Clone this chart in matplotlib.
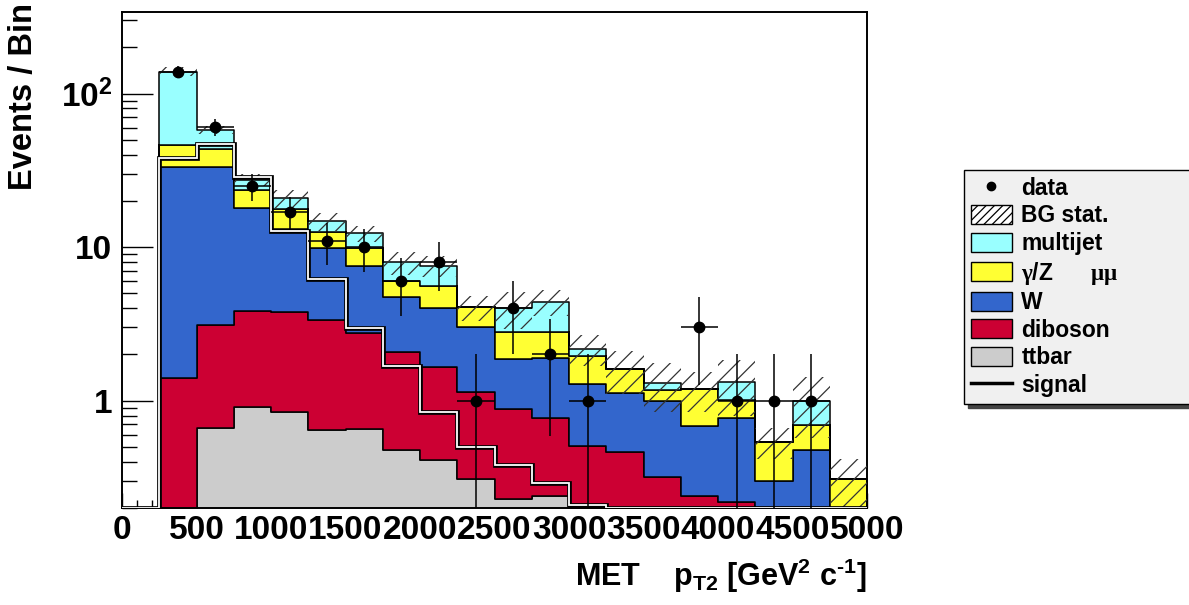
import numpy as np
import matplotlib.pyplot as plt
from matplotlib.patches import Patch
from matplotlib.lines import Line2D
from matplotlib.ticker import MultipleLocator, LogLocator, NullFormatter

plt.rcParams['font.family'] = ['Liberation Sans', 'DejaVu Sans']
plt.rcParams['font.weight'] = 'bold'
plt.rcParams['mathtext.fontset'] = 'custom'
plt.rcParams['mathtext.rm'] = 'Liberation Serif'
plt.rcParams['mathtext.bf'] = 'Liberation Sans:bold'
plt.rcParams['hatch.linewidth'] = 0.9

# bins of 250 from 0 to 5000 (first bin empty)
edges = np.arange(0, 5001, 250)
ttbar = [0, 0, 0.66, 0.91, 0.85, 0.64, 0.65, 0.48, 0.41, 0.31, 0.23, 0.24, 0, 0, 0, 0, 0, 0, 0, 0]
diboson = [0, 1.40, 2.47, 2.91, 2.91, 2.72, 2.11, 1.58, 1.25, 0.83, 0.65, 0.53, 0.51, 0.46, 0.32, 0.24, 0.22, 0, 0, 0]
wjets = [0, 32.1, 30.3, 14.2, 9.44, 6.54, 4.78, 2.65, 2.36, 1.86, 0.99, 1.13, 0.77, 0.67, 0.68, 0.44, 0.55, 0.30, 0.48, 0]
zgamma = [0, 12.8, 10.0, 5.6, 4.4, 2.7, 2.36, 1.34, 1.59, 1.06, 0.92, 0.92, 0.68, 0.48, 0.18, 0.51, 0.24, 0.24, 0.21, 0.31]
multijet = [0, 92.7, 14.6, 3.8, 3.3, 2.1, 2.4, 1.91, 1.97, 0, 1.23, 1.6, 0.21, 0, 0.12, 0, 0.31, 0, 0.31, 0]
bg_err = [0, 9, 3.8, 2.5, 2.8, 1.9, 1.5, 1.4, 1.2, 0.77, 1.1, 0.85, 0.5, 0.5, 0.45, 0.35, 0.52, 0.12, 0.43, 0.11]
signal = [0, 37.9, 47, 28.5, 12.8, 6.2, 2.96, 1.67, 0.85, 0.50, 0.38, 0.29, 0.21, 0, 0, 0, 0, 0, 0, 0]
data = [0, 139, 61, 25, 17, 11, 10, 6, 8, 1, 4, 2, 1, 0, 0, 3, 1, 1, 1, 0]

colors = ['#cccccc', '#cc0033', '#3366cc', '#ffff33', '#99ffff']

ymin, ymax = 0.2, 340
floor = 1e-2

fig = plt.figure(figsize=(11.89, 6.05), dpi=100)
ax = fig.add_axes([122/1189, 1-508/605, 745/1189, 496/605])
ax.set_yscale('log')

xs = np.repeat(edges, 2)[1:-1]

def rep(v):
    return np.repeat(np.asarray(v, float), 2)

# stacked backgrounds
levels = np.cumsum([ttbar, diboson, wjets, zgamma, multijet], axis=0)
lower = np.full(len(data), floor)
for lvl, c in zip(levels, colors):
    upper = np.maximum(lvl, floor)
    ax.fill_between(xs, rep(lower), rep(upper), facecolor=c, edgecolor='black', lw=1.1, zorder=2)
    lower = upper

# BG stat band
tot = levels[-1]
err = np.array(bg_err)
ax.fill_between(xs, rep(np.maximum(tot-err, floor)), rep(np.maximum(tot+err, floor)),
                facecolor='none', edgecolor='#333333', hatch='//', lw=0, zorder=3)

# signal
sig = rep(np.maximum(signal, ymin))
ax.plot(xs, sig, color='black', lw=3.4, zorder=4, solid_joinstyle='miter')
ax.plot(xs, sig, color='white', lw=1.3, zorder=4.1, solid_joinstyle='miter')

# data
d = np.array(data, float)
centers = 0.5*(edges[:-1] + edges[1:])
m = d > 0
e = np.sqrt(d[m])
lo = np.where(e >= d[m], d[m] - 1e-3, e)
ax.errorbar(centers[m], d[m], xerr=125, yerr=[lo, e], fmt='o', color='black',
            ms=7.5, elinewidth=1.1, capsize=0, zorder=5)

ax.set_xlim(0, 5000)
ax.set_ylim(ymin, ymax)
ax.set_axisbelow(True)

ax.set_xticks(np.arange(0, 5001, 500))
ax.xaxis.set_minor_locator(MultipleLocator(100))
ax.tick_params(axis='x', which='major', direction='in', length=11, width=1, labelsize=24, pad=5)
ax.tick_params(axis='x', which='minor', direction='in', length=6, width=1)
ax.set_yticks([1, 10, 100])
ax.set_yticklabels(['1', '10', r'$\mathbf{10^{2}}$'])
ax.yaxis.set_minor_locator(LogLocator(base=10, subs=np.arange(2, 10)))
ax.yaxis.set_minor_formatter(NullFormatter())
ax.tick_params(axis='y', which='major', direction='in', length=22, width=1, labelsize=24, pad=7)
ax.tick_params(axis='y', which='minor', direction='in', length=11, width=1)
for s in ax.spines.values():
    s.set_linewidth(1.4)

ax.set_ylabel('Events / Bin', fontsize=23.5, fontweight='bold', loc='top')
ax.yaxis.set_label_coords(-0.111, 1.018)
ax.set_xlabel('MET    $\\mathbf{p_{T2}}$ [GeV$^{\\mathbf{2}}$ c$^{\\mathbf{\u2010 1}}$]',
              fontsize=22, fontweight='bold', loc='right', labelpad=8)

handles = [
    Line2D([], [], marker='o', color='black', ls='none', ms=6),
    Patch(facecolor='white', edgecolor='black', hatch='////', lw=1),
    Patch(facecolor=colors[4], edgecolor='black', lw=1),
    Patch(facecolor=colors[3], edgecolor='black', lw=1),
    Patch(facecolor=colors[2], edgecolor='black', lw=1),
    Patch(facecolor=colors[1], edgecolor='black', lw=1),
    Patch(facecolor=colors[0], edgecolor='black', lw=1),
    Line2D([], [], color='black', lw=2.5),
]
labels = ['data', 'BG stat.', 'multijet', r'$\mathrm{\gamma}$/Z      $\mathrm{\mu\mu}$',
          'W', 'diboson', 'ttbar', 'signal']
leg = fig.legend(handles, labels, loc='upper left',
                 bbox_to_anchor=(964/1189, 1-176/605, 0.19, 0.01), mode='expand',
                 fontsize=16.5, frameon=True, fancybox=False, framealpha=1,
                 facecolor='#f0f0f0', edgecolor='black', borderpad=0.3,
                 labelspacing=0.2, handlelength=1.8, handleheight=0.9,
                 handletextpad=0.4, borderaxespad=0,
                 shadow={'color': '#444444', 'alpha': 1.0, 'ox': 3, 'oy': -3})
leg.get_frame().set_linewidth(1)

fig.savefig('out.png', dpi=100)
